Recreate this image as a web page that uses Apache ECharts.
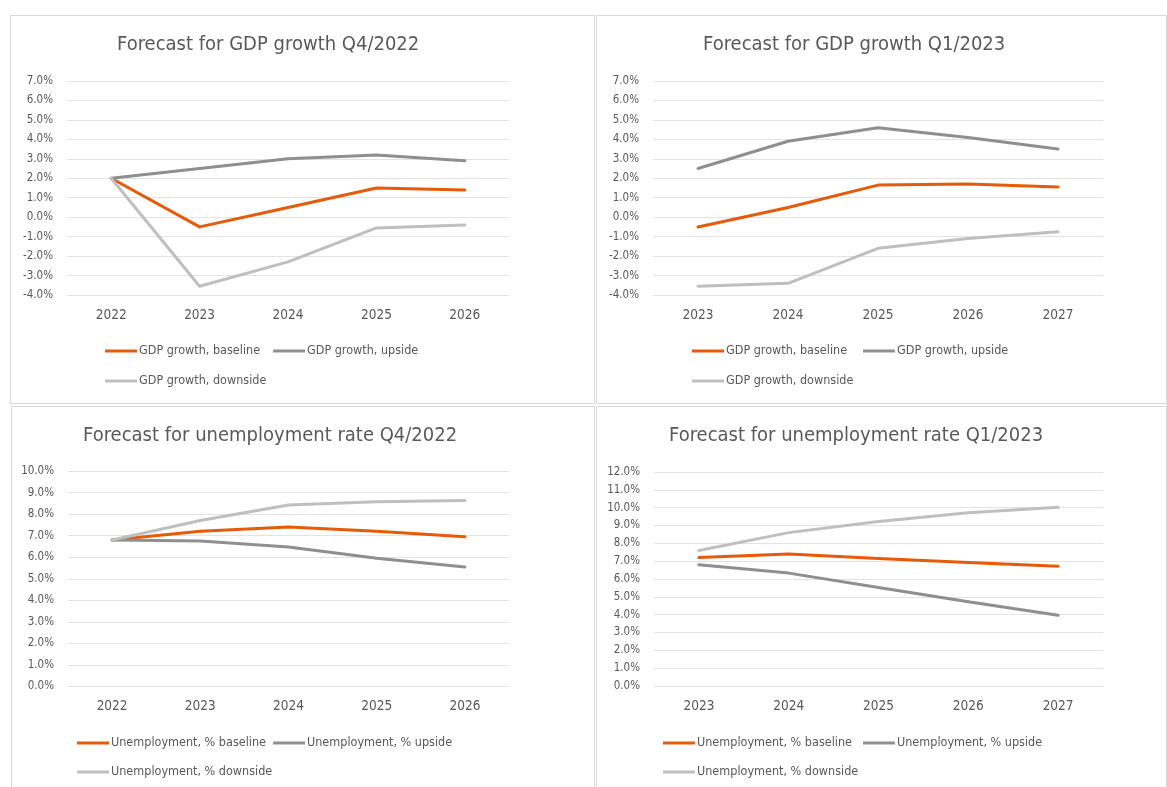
<!DOCTYPE html>
<html>
<head>
<meta charset="utf-8">
<script src="https://cdn.jsdelivr.net/npm/echarts@6/dist/echarts.min.js"></script>
<style>
  html, body { margin: 0; padding: 0; background: #ffffff; width: 1167px; height: 787px; overflow: hidden; }
  .panel { position: absolute; }
  .border { position: absolute; border: 1px solid #d9d9d9; box-sizing: border-box; pointer-events: none; }
</style>
</head>
<body>
<div id="p1" class="panel" style="left:10px;top:15px;width:584px;height:388px;"></div>
<div id="p2" class="panel" style="left:596px;top:15px;width:571px;height:388px;"></div>
<div id="p3" class="panel" style="left:11px;top:406px;width:583px;height:390px;"></div>
<div id="p4" class="panel" style="left:596px;top:406px;width:571px;height:390px;"></div>
<div class="border" style="left:10px;top:15px;width:585px;height:389px;"></div>
<div class="border" style="left:596px;top:15px;width:571px;height:389px;"></div>
<div class="border" style="left:11px;top:406px;width:584px;height:390px;"></div>
<div class="border" style="left:596px;top:406px;width:571px;height:390px;"></div>
<script>
// ---- Data ----
const gdpQ4Years = ['2022', '2023', '2024', '2025', '2026'];
const gdpQ4Baseline = [2.0, -0.5, 0.5, 1.5, 1.4];
const gdpQ4Upside = [2.0, 2.5, 3.0, 3.2, 2.9];
const gdpQ4Downside = [2.0, -3.55, -2.3, -0.55, -0.4];

const gdpQ1Years = ['2023', '2024', '2025', '2026', '2027'];
const gdpQ1Baseline = [-0.5, 0.5, 1.65, 1.7, 1.55];
const gdpQ1Upside = [2.5, 3.9, 4.6, 4.1, 3.5];
const gdpQ1Downside = [-3.55, -3.4, -1.6, -1.1, -0.75];

const unQ4Years = ['2022', '2023', '2024', '2025', '2026'];
const unQ4Baseline = [6.8, 7.2, 7.4, 7.2, 6.95];
const unQ4Upside = [6.8, 6.75, 6.47, 5.95, 5.55];
const unQ4Downside = [6.8, 7.7, 8.42, 8.57, 8.63];

const unQ1Years = ['2023', '2024', '2025', '2026', '2027'];
const unQ1Baseline = [7.2, 7.4, 7.15, 6.92, 6.72];
const unQ1Upside = [6.8, 6.33, 5.52, 4.72, 3.97];
const unQ1Downside = [7.6, 8.6, 9.22, 9.72, 10.02];

const titles = [
  'Forecast for GDP growth Q4/2022',
  'Forecast for GDP growth Q1/2023',
  'Forecast for unemployment rate Q4/2022',
  'Forecast for unemployment rate Q1/2023'
];
const gdpNames = ['GDP growth, baseline', 'GDP growth, upside', 'GDP growth, downside'];
const unNames = ['Unemployment, % baseline', 'Unemployment, % upside', 'Unemployment, % downside'];

// ---- Styling ----
const FONT = "'Liberation Sans Narrow', 'DejaVu Sans Condensed', sans-serif";
const TXT = '#595959';
const COLORS = ['#e65a08', '#8f8f8f', '#bfbfbf'];

function build(el, cfg) {
  const chart = echarts.init(document.getElementById(el), null, { renderer: 'canvas' });
  const series = cfg.names.map((n, i) => ({
    name: n,
    type: 'line',
    data: cfg.values[i],
    symbol: 'none',
    lineStyle: { width: 3, color: COLORS[i], cap: 'round', join: 'round' },
    itemStyle: { color: COLORS[i] },
    animation: false
  }));
  const legends = cfg.names.map((n, i) => ({
    data: [n],
    left: cfg.legendPos[i][0],
    top: cfg.legendPos[i][1],
    padding: 0,
    itemWidth: 32,
    itemHeight: 3,
    icon: 'rect',
    selectedMode: false,
    textStyle: { fontFamily: FONT, fontSize: 12.5, color: TXT, lineHeight: 16, padding: [0, 0, 0, -3] }
  }));
  chart.setOption({
    animation: false,
    title: {
      text: cfg.title,
      left: cfg.titlePos[0],
      top: cfg.titlePos[1],
      padding: 0,
      textStyle: { fontFamily: FONT, fontSize: 20, fontWeight: 'normal', color: TXT }
    },
    legend: legends,
    grid: { left: cfg.grid[0], top: cfg.grid[1], width: cfg.grid[2], height: cfg.grid[3], containLabel: false },
    xAxis: {
      type: 'category',
      data: cfg.cats,
      boundaryGap: true,
      axisTick: { show: false },
      axisLine: { show: false },
      axisLabel: { margin: 13, fontFamily: FONT, fontSize: 13.5, color: TXT }
    },
    yAxis: {
      type: 'value',
      min: cfg.y[0], max: cfg.y[1], interval: 1,
      axisLine: { show: false },
      axisTick: { show: false },
      splitLine: { lineStyle: { color: '#e3e3e3', width: 1 } },
      axisLabel: { margin: cfg.ymargin, fontFamily: FONT, fontSize: 11.5, color: TXT, formatter: v => v.toFixed(1) + '%' }
    },
    series: series
  });
}

build('p1', {
  title: titles[0], titlePos: [107, 20],
  grid: [57, 66, 442, 214], y: [-4, 7], ymargin: 14,
  cats: gdpQ4Years, names: gdpNames,
  values: [gdpQ4Baseline, gdpQ4Upside, gdpQ4Downside],
  legendPos: [[95, 328], [263, 328], [95, 358]]
});
build('p2', {
  title: titles[1], titlePos: [107, 20],
  grid: [57, 66, 450, 214], y: [-4, 7], ymargin: 14,
  cats: gdpQ1Years, names: gdpNames,
  values: [gdpQ1Baseline, gdpQ1Upside, gdpQ1Downside],
  legendPos: [[96, 328], [267, 328], [96, 358]]
});
build('p3', {
  title: titles[2], titlePos: [72, 20],
  grid: [57, 65, 441, 215.5], y: [0, 10], ymargin: 14,
  cats: unQ4Years, names: unNames,
  values: [unQ4Baseline, unQ4Upside, unQ4Downside],
  legendPos: [[66, 329], [262, 329], [66, 358]]
});
build('p4', {
  title: titles[3], titlePos: [73, 20],
  grid: [58, 66, 449, 214], y: [0, 12], ymargin: 14,
  cats: unQ1Years, names: unNames,
  values: [unQ1Baseline, unQ1Upside, unQ1Downside],
  legendPos: [[67, 329], [267, 329], [67, 358]]
});
</script>
</body>
</html>
